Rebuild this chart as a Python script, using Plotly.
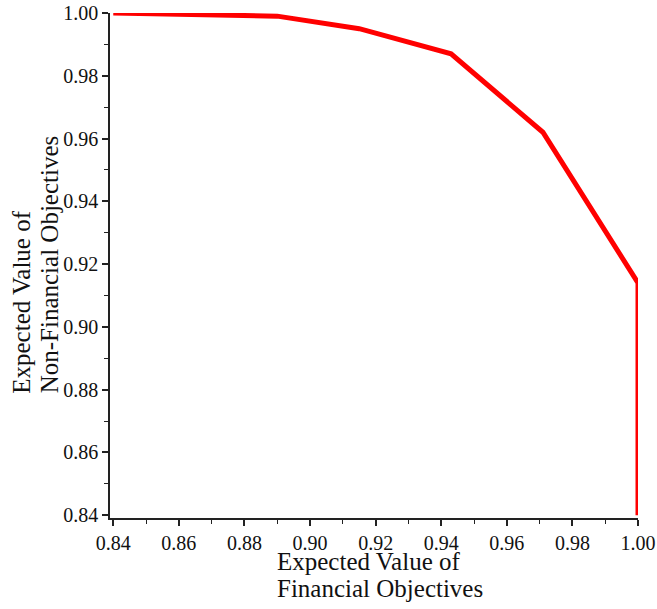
import plotly.graph_objects as go

financial = [0.84, 0.890, 0.915, 0.943, 0.971, 1.000, 1.000]
non_financial = [1.000, 0.999, 0.995, 0.987, 0.962, 0.914, 0.840]
tick_vals = [0.84, 0.86, 0.88, 0.90, 0.92, 0.94, 0.96, 0.98, 1.00]
tick_text = ["0.84", "0.86", "0.88", "0.90", "0.92", "0.94", "0.96", "0.98", "1.00"]
x_title_lines = ["Expected Value of", "Financial Objectives"]
y_title_lines = ["Expected Value of", "Non-Financial Objectives"]

FONT = "Liberation Serif"
TITLE_SIZE = 25

fig = go.Figure()
fig.add_trace(go.Scatter(
    x=financial, y=non_financial, mode="lines",
    line=dict(color="#ff0000", width=5),
    cliponaxis=False, showlegend=False, hoverinfo="skip",
))

axis_common = dict(
    tickvals=tick_vals, ticktext=tick_text,
    ticks="outside", ticklen=6, tickwidth=1.5, tickcolor="#222",
    showline=True, linecolor="#222", linewidth=1.5,
    showgrid=False, zeroline=False, automargin=False,
    minor=dict(dtick=0.01, ticks="outside", ticklen=4, tickwidth=1, tickcolor="#222", showgrid=False),
)

fig.update_xaxes(range=[0.8390, 1.0], **axis_common)
fig.update_yaxes(range=[0.8391, 1.0], **axis_common)
fig.update_xaxes(tickfont_family=FONT, tickfont_size=20, tickfont_color="#111")
fig.update_yaxes(tickfont_family=FONT, tickfont_size=20, tickfont_color="#111")

for txt, yp in zip(x_title_lines, [-0.086, -0.1405]):
    fig.add_annotation(
        text=txt, xref="paper", yref="paper", x=0.312, y=yp,
        xanchor="left", yanchor="middle", showarrow=False,
        font=dict(family=FONT, size=TITLE_SIZE, color="#111"),
    )
for txt, xp in zip(y_title_lines, [-0.1667, -0.1155]):
    fig.add_annotation(
        text=txt, xref="paper", yref="paper", x=xp, y=0.243,
        xanchor="center", yanchor="bottom", textangle=-90,
        showarrow=False,
        font=dict(family=FONT, size=TITLE_SIZE, color="#111"),
    )

fig.update_layout(
    width=657, height=609,
    font=dict(family=FONT, color="#111"),
    margin=dict(l=110, r=19, t=13, b=91, autoexpand=False),
    plot_bgcolor="white", paper_bgcolor="white",
)

fig.write_html("out.html")
